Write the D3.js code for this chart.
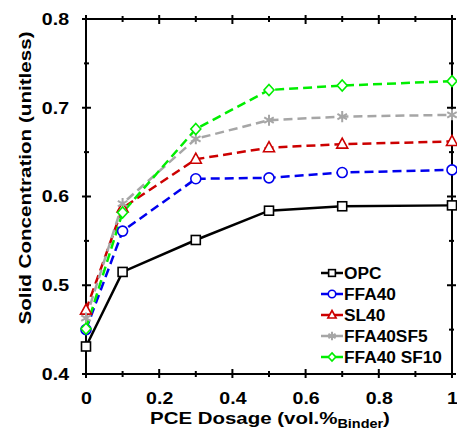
<!DOCTYPE html>
<html>
<head>
<meta charset="utf-8">
<script src="https://cdn.jsdelivr.net/npm/d3@7"></script>
<style>
  body { margin: 0; background: #fff; }
  svg { display: block; font-family: Arial, "Liberation Sans", sans-serif; }
</style>
</head>
<body>
<svg id="svg"></svg>
<script>
// data
let dosage = [0, 0.1, 0.3, 0.5, 0.7, 1];
let seriesNames = ["OPC", "FFA40", "SL40", "FFA40SF5", "FFA40 SF10"];
let opc = [0.431, 0.515, 0.551, 0.584, 0.589, 0.590];
let ffa40 = [0.450, 0.561, 0.620, 0.621, 0.627, 0.630];
let sl40 = [0.472, 0.587, 0.642, 0.655, 0.659, 0.662];
let ffa40sf5 = [0.463, 0.592, 0.665, 0.686, 0.690, 0.692];
let ffa40sf10 = [0.451, 0.582, 0.676, 0.720, 0.725, 0.730];
let xTicks = [0, 0.2, 0.4, 0.6, 0.8, 1];
let yTicks = [0.4, 0.5, 0.6, 0.7, 0.8];

const width = 457;
const height = 440;
const margin = { top: 19, right: 4, bottom: 65, left: 86 };

let svg = d3.select("#svg").attr("width", width).attr("height", height);

let series = [
    { name: seriesNames[0], values: opc, color: "#000000", dash: null, marker: "square" },
    { name: seriesNames[1], values: ffa40, color: "#0000ee", dash: "9,5", marker: "circle" },
    { name: seriesNames[2], values: sl40, color: "#cc0000", dash: "9,5", marker: "triangle" },
    { name: seriesNames[3], values: ffa40sf5, color: "#a6a6a6", dash: "9,5", marker: "star" },
    { name: seriesNames[4], values: ffa40sf10, color: "#00ee00", dash: "9,5", marker: "diamond" }
];

let xScale = d3.scaleLinear().domain([0, 1]).range([margin.left, width - margin.right - 1]);
let yScale = d3.scaleLinear().domain([0.4, 0.8]).range([height - margin.bottom - 1, margin.top]);

let x0 = xScale(0), x1 = xScale(1), y0 = yScale(0.4), y1 = yScale(0.8);

// the reference text is a bit wider than Arial, so stretch it horizontally
function widen(sel, factor) {
    sel.each(function () {
        let w = this.getComputedTextLength();
        d3.select(this).attr("textLength", w * factor).attr("lengthAdjust", "spacingAndGlyphs");
    });
}

let bottom = svg.append("g").attr("transform", `translate(0,${y0})`)
    .call(d3.axisBottom(xScale).tickValues(xTicks).tickSize(0).tickPadding(18)
        .tickFormat(d => d === 0 || d === 1 ? d3.format("d")(d) : d3.format(".1f")(d)));
bottom.select(".domain").remove();
bottom.selectAll("text").style("font-size", "17px").style("font-weight", "bold").attr("fill", "#000");
widen(bottom.selectAll("text"), 1.15);

let left = svg.append("g").attr("transform", `translate(${x0},0)`)
    .call(d3.axisLeft(yScale).tickValues(yTicks).tickSize(0).tickPadding(17).tickFormat(d3.format(".1f")));
left.select(".domain").remove();
left.selectAll("text").style("font-size", "17px").style("font-weight", "bold").attr("fill", "#000");
widen(left.selectAll("text"), 1.15);

// tick marks cross the frame on every side
let ticks = svg.append("g").attr("stroke", "#000").attr("stroke-width", 2);
d3.range(0, 1.0001, 0.1).forEach((v, i) => {
    let x = xScale(v), major = i % 2 === 0;
    let o = major ? 4 : 3, n = major ? 5 : 3;
    ticks.append("line").attr("x1", x).attr("x2", x).attr("y1", y0 + o).attr("y2", y0 - n);
    ticks.append("line").attr("x1", x).attr("x2", x).attr("y1", y1 - o).attr("y2", y1 + n);
});
d3.range(0.4, 0.8001, 0.05).forEach((v, i) => {
    let y = yScale(v), major = i % 2 === 0;
    let o = major ? 4 : 2, n = major ? 5 : 3;
    ticks.append("line").attr("y1", y).attr("y2", y).attr("x1", x0 - o).attr("x2", x0 + n);
    ticks.append("line").attr("y1", y).attr("y2", y).attr("x1", x1 + o).attr("x2", x1 - n);
});

svg.append("rect").attr("x", x0).attr("y", y1).attr("width", x1 - x0).attr("height", y0 - y1)
    .attr("fill", "none").attr("stroke", "#000").attr("stroke-width", 2);

let plot = svg.append("g");

function drawMarker(g, type, cx, cy, color, k) {
    k = k || 1;
    if (type === "square") {
        g.append("rect").attr("x", cx - 4.5 * k).attr("y", cy - 4.5 * k).attr("width", 9 * k).attr("height", 9 * k)
            .attr("fill", "#fff").attr("stroke", color).attr("stroke-width", 1.6);
    } else if (type === "circle") {
        g.append("circle").attr("cx", cx).attr("cy", cy).attr("r", 5 * k)
            .attr("fill", "#fff").attr("stroke", color).attr("stroke-width", 1.6);
    } else if (type === "triangle") {
        g.append("path").attr("d", `M${cx},${cy - 6 * k}L${cx + 5.5 * k},${cy + 4 * k}L${cx - 5.5 * k},${cy + 4 * k}Z`)
            .attr("fill", "#fff").attr("stroke", color).attr("stroke-width", 1.6);
    } else if (type === "diamond") {
        g.append("path").attr("d", `M${cx},${cy - 5.5 * k}L${cx + 5 * k},${cy}L${cx},${cy + 5.5 * k}L${cx - 5 * k},${cy}Z`)
            .attr("fill", "#fff").attr("stroke", color).attr("stroke-width", 1.6);
    } else if (type === "star") {
        g.append("path").attr("d", d3.symbol(d3.symbolAsterisk, 85 * k * k)())
            .attr("transform", `translate(${cx},${cy})`)
            .attr("fill", "none").attr("stroke", color).attr("stroke-width", 2);
    }
}

let line = d3.line().x((d, i) => xScale(dosage[i])).y(d => yScale(d));

series.forEach(s => {
    plot.append("path").datum(s.values).attr("d", line)
        .attr("fill", "none").attr("stroke", s.color).attr("stroke-width", 2.5)
        .attr("stroke-dasharray", s.dash);
});
series.forEach(s => {
    s.values.forEach((v, i) => drawMarker(plot, s.marker, xScale(dosage[i]), yScale(v), s.color));
});

// legend
let legend = svg.append("g");
series.forEach((s, i) => {
    let y = 273 + i * 21;
    legend.append("line").attr("x1", 321).attr("x2", 343).attr("y1", y).attr("y2", y)
        .attr("stroke", s.color).attr("stroke-width", 2.5);
    drawMarker(legend, s.marker, 332, y, s.color, 0.75);
    let t = legend.append("text").attr("x", 344).attr("y", y).attr("dy", "0.36em")
        .style("font-size", "16px").style("font-weight", "bold").text(s.name);
    widen(t, 1.08);
});

// axis titles
let yt = svg.append("text").attr("transform", "translate(31,178) rotate(-90)")
    .attr("text-anchor", "middle").style("font-size", "16px").style("font-weight", "bold")
    .text("Solid Concentration (unitless)");
yt.attr("textLength", 293).attr("lengthAdjust", "spacingAndGlyphs");

let xtGroup = svg.append("g");
let xt = xtGroup.append("text").attr("x", 0).attr("y", 0)
    .style("font-size", "17px").style("font-weight", "bold");
xt.append("tspan").text("PCE Dosage (vol.%");
xt.append("tspan").attr("dy", 4).style("font-size", "12px").text("Binder");
xt.append("tspan").attr("dy", -4).text(")");
let xtBox = xt.node().getBBox();
let xtScale = 240 / xtBox.width;
xtGroup.attr("transform", `translate(${270 - 120},424) scale(${xtScale},1)`);
</script>
</body>
</html>
